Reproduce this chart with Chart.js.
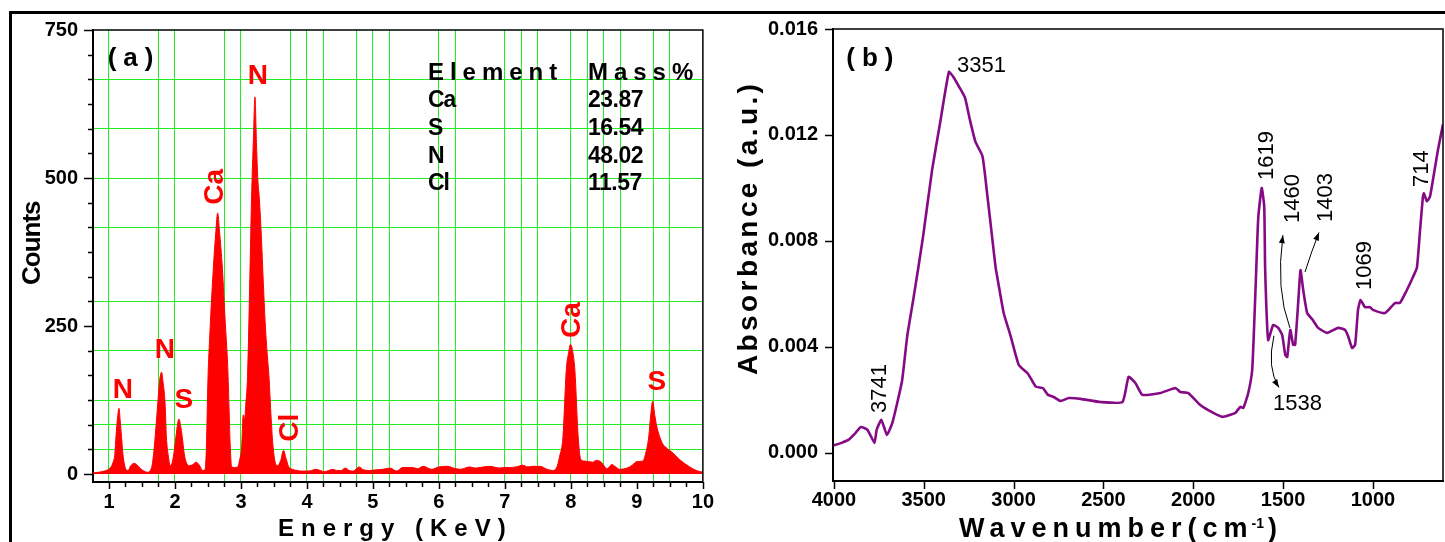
<!DOCTYPE html>
<html><head><meta charset="utf-8">
<script src="https://cdn.jsdelivr.net/npm/chart.js@4.4.1/dist/chart.umd.min.js"></script>
<style>
html,body{margin:0;padding:0;background:#fff;}
#wrap{position:relative;width:1445px;height:542px;overflow:hidden;background:#fff;}
#frame{position:absolute;left:9px;top:11px;width:1440px;height:540px;border-top:3px solid #000;border-left:3px solid #000;}
#ca{position:absolute;left:0;top:0;}
#cb{position:absolute;left:722px;top:0;}
</style></head>
<body><div id="wrap"><div id="frame"></div>
<canvas id="ca" width="722" height="542"></canvas>
<canvas id="cb" width="723" height="542"></canvas>
</div>
<script>
// ---------- Panel (a): EDS spectrum ----------
const energy = [0.76,0.85,0.93,0.98,1.03,1.06,1.09,1.106,1.13,1.152,
1.17,1.19,1.21,1.23,1.26,1.29,1.33,1.38,1.43,1.48,
1.53,1.58,1.62,1.66,1.70,1.74,1.77,1.798,1.82,1.85,
1.87,1.90,1.93,1.96,1.99,2.015,2.04,2.06,2.085,2.11,
2.14,2.17,2.22,2.27,2.32,2.37,2.42,2.455,2.475,2.50,
2.53,2.58,2.62,2.647,2.675,2.72,2.76,2.80,2.82,2.835,
2.86,2.90,2.95,2.98,3.01,3.035,3.055,3.075,3.10,3.135,
3.16,3.19,3.212,3.235,3.255,3.28,3.31,3.335,3.37,3.40,
3.425,3.45,3.48,3.51,3.55,3.60,3.645,3.68,3.72,3.78,
3.85,3.92,4.0,4.07,4.13,4.2,4.27,4.33,4.39,4.45,
4.52,4.58,4.64,4.70,4.79,4.86,4.95,5.05,5.15,5.26,
5.36,5.45,5.6,5.68,5.76,5.89,6.0,6.14,6.22,6.32,
6.47,6.55,6.62,6.77,6.92,7.0,7.07,7.17,7.27,7.35,
7.42,7.53,7.64,7.72,7.78,7.83,7.88,7.93,7.965,7.995,
8.03,8.06,8.11,8.15,8.2,8.27,8.33,8.38,8.45,8.55,
8.62,8.68,8.74,8.85,8.93,9.0,9.09,9.15,9.18,9.21,
9.24,9.27,9.30,9.34,9.39,9.46,9.53,9.65,9.8,9.9,
10.0];
const counts = [2,3,5,7,12,19,35,63,95,111,
90,63,35,19,7,6,14,18,15,9,
5,3,5,19,63,120,160,172,155,120,
63,30,14,20,40,63,85,93,82,63,
35,20,14,16,20,15,6,7,40,160,
240,345,410,441,410,345,260,180,110,55,
12,11,12,24,45,100,92,120,165,333,
463,570,637,560,500,463,400,333,250,200,
164,110,55,25,14,22,40,28,13,8,
6,5,5,6,8,6,4,6,8,6,
6,10,6,5,12,7,6,7,8,10,
5,11,11,9,13,8,12,13,10,8,
12,10,11,13,10,11,11,12,15,12,
13,13,8,6,10,30,63,176,205,219,
205,176,63,25,22,21,20,23,21,9,
16,12,8,10,15,21,22,43,63,100,
123,100,81,65,51,43,37,24,12,6,
3];
const energyTicks = [1,1.25,1.5,1.75,2,2.25,2.5,2.75,3,3.25,3.5,3.75,4,4.25,4.5,4.75,5,5.25,5.5,5.75,6,6.25,6.5,6.75,7,7.25,7.5,7.75,8,8.25,8.5,8.75,9,9.25,9.5,9.75,10];
const energyGrid = [1,1.75,2,2.75,3,3.75,4,4.25,4.75,5,5.25,6,6.25,7,7.25,7.5,8,8.25,8.5,8.75,9.25,9.5];
const countTicks = [0,41.667,83.333,125,166.667,208.333,250,291.667,333.333,375,416.667,458.333,500,541.667,583.333,625,666.667,708.333,750];
const countGrid = [41.667,83.333,125,208.333,291.667,416.667,500,583.333,666.667];
const countLabels = [0,250,500,750];
const peakLabelsA = [
  {t:'N', x:1.212, y:142, rot:false},
  {t:'N', x:1.848, y:209, rot:false},
  {t:'S', x:2.136, y:125, rot:false},
  {t:'Ca', x:2.606, y:485, rot:true},
  {t:'N', x:3.258, y:671, rot:false},
  {t:'Cl', x:3.742, y:78, rot:true},
  {t:'Ca', x:8.015, y:260, rot:true},
  {t:'S', x:9.303, y:155, rot:false}
];
const tableHead = ['Element','Mass%'];
const tableElements = ['Ca','S','N','Cl'];
const tableMass = ['23.87','16.54','48.02','11.57'];

// ---------- Panel (b): FTIR spectrum ----------
const wavenumber = [4000,3994,3957,3920,3880,3850,3813,3774,3762,3736,
3705,3675,3647,3620,3592,3558,3530,3503,3453,3409,
3360,3336,3299,3270,3243,3212,3173,3145,3117,3100,
3088,3055,3016,2971,2921,2876,2837,2810,2776,2738,
2693,2627,2516,2394,2360,2322,2283,2183,2099,2072,
2027,1961,1888,1838,1766,1738,1721,1694,1672,1660,
1649,1638,1619,1605,1600,1594,1583,1555,1527,1505,
1488,1477,1460,1444,1433,1416,1403,1388,1366,1333,
1305,1255,1194,1155,1138,1116,1099,1083,1069,1044,
1016,1000,933,877,850,811,777,755,739,722,
716,700,683,666,639,616,610];
const absorbance = [0.0003,0.0003,0.00038,0.00049,0.00075,0.00098,0.00087,0.00038,0.00087,0.00125,
0.00068,0.00113,0.0019,0.00275,0.0044,0.0058,0.0070,0.0082,0.0107,0.01245,
0.01438,0.0142,0.01377,0.0134,0.01257,0.01174,0.0112,0.00966,0.0080,0.0070,
0.00653,0.00528,0.0044,0.00332,0.0030,0.0025,0.00245,0.0022,0.00211,0.00196,
0.00207,0.00204,0.00192,0.00192,0.00287,0.00264,0.00219,0.00226,0.00245,0.0023,
0.00226,0.00181,0.00151,0.00136,0.00151,0.00174,0.0017,0.00226,0.00313,0.0050,
0.0070,0.0089,0.0100,0.0093,0.0070,0.00566,0.00426,0.00483,0.00472,0.00445,
0.0037,0.00362,0.00464,0.00408,0.00408,0.00566,0.0069,0.00615,0.00528,0.0050,
0.00472,0.00453,0.00472,0.00464,0.0044,0.00396,0.00408,0.0054,0.00577,0.0055,
0.0055,0.0054,0.00528,0.00566,0.00566,0.00615,0.00664,0.0070,0.0083,0.00966,
0.0098,0.0095,0.00966,0.0103,0.0114,0.0122,0.0124];
const wnTicks = [4000,3500,3000,2500,2000,1500,1000];
const absTicks = [0,0.004,0.008,0.012,0.016];
const peakLabelsB = [
  {t:'3351', x:3315, y:0.01438, rot:false},
  {t:'3741', x:3711, y:0.00151, rot:true},
  {t:'1619', x:1557, y:0.0103, rot:true},
  {t:'1460', x:1412, y:0.00868, rot:true},
  {t:'1403', x:1228, y:0.00872, rot:true},
  {t:'1069', x:1011, y:0.00615, rot:true},
  {t:'714', x:694, y:0.01004, rot:true},
  {t:'1538', x:1556, y:0.00162, rot:false}
];
const arrowsB = [
  {from:[1462,0.00472], ctrl:[1542,0.00615], to:[1501,0.00822]},
  {from:[1378,0.00683], ctrl:[1343,0.00759], to:[1300,0.00832]},
  {from:[1551,0.00442], ctrl:[1592,0.00321], to:[1523,0.00247]}
];

const FONT = '"Liberation Sans", Arial, Helvetica, sans-serif';
const GREEN = '#22ee22';
Chart.defaults.font.family = FONT;
Chart.defaults.color = '#000';

function near(list, v){ return list.some(g => Math.abs(g - v) < 1e-3); }
function txt(ctx, s, px, py, o){
  ctx.save();
  ctx.font = o.font; ctx.fillStyle = o.color || '#000';
  ctx.letterSpacing = (o.ls || 0) + 'px';
  ctx.textAlign = o.align || 'left'; ctx.textBaseline = o.base || 'alphabetic';
  ctx.translate(px, py); if (o.rot) ctx.rotate(-Math.PI/2);
  ctx.fillText(s, 0, 0);
  const w = ctx.measureText(s).width;
  ctx.restore();
  return w;
}
function seg(ctx,x1,y1,x2,y2){ ctx.beginPath(); ctx.moveTo(x1,y1); ctx.lineTo(x2,y2); ctx.stroke(); }

const plugA = {
  id:'plugA',
  afterDraw(chart){
    const {ctx, chartArea:a, scales:{x, y}} = chart;
    ctx.save();
    ctx.strokeStyle = '#000'; ctx.lineWidth = 1.5;
    ctx.beginPath(); ctx.moveTo(a.left, a.top); ctx.lineTo(a.right, a.top); ctx.lineTo(a.right, a.bottom); ctx.stroke();
    countTicks.forEach(v => { const py = Math.round(y.getPixelForValue(v)) + 0.5; const L = near(countLabels, v) ? 9 : 5; seg(ctx, a.left - L, py, a.left, py); });
    energyTicks.forEach(v => { const px = Math.round(x.getPixelForValue(v)) + 0.5; const L = Number.isInteger(v) ? 7 : 5; seg(ctx, px, a.bottom, px, a.bottom + L); });
    ctx.restore();
    // peak labels
    peakLabelsA.forEach(p => txt(ctx, p.t, x.getPixelForValue(p.x), y.getPixelForValue(p.y), {font:'bold 28px '+FONT, color:'#ff0000', align:'center', base:'middle', rot:p.rot}));
    // table
    txt(ctx, tableHead[0], x.getPixelForValue(5.833), y.getPixelForValue(665.5), {font:'bold 24px '+FONT, ls:6});
    txt(ctx, tableHead[1], x.getPixelForValue(8.258), y.getPixelForValue(665.5), {font:'bold 24px '+FONT, ls:6});
    const rowY = [620, 573, 525, 480];
    tableElements.forEach((e,i) => {
      txt(ctx, e, x.getPixelForValue(5.833), y.getPixelForValue(rowY[i]), {font:'bold 23px '+FONT, ls:-1});
      txt(ctx, tableMass[i], x.getPixelForValue(8.258), y.getPixelForValue(rowY[i]), {font:'bold 23px '+FONT, ls:-0.5});
    });
    txt(ctx, '(a)', x.getPixelForValue(1.38), y.getPixelForValue(701), {font:'bold 26px '+FONT, ls:7, align:'center', base:'middle'});
    // axis titles
    txt(ctx, 'Energy (KeV)', a.left + 185, a.bottom + 54, {font:'bold 24px '+FONT, ls:7});
    txt(ctx, 'Counts', 40, a.bottom - 197, {font:'bold 26px '+FONT, ls:-1, rot:true});
  }
};

new Chart(document.getElementById('ca'), {
  type:'line',
  data:{datasets:[{data: energy.map((e,i)=>({x:e, y:counts[i]})), borderColor:'#ff0000', backgroundColor:'#ff0000', borderWidth:1, pointRadius:0, fill:'origin', cubicInterpolationMode:'monotone'}]},
  options:{
    responsive:false, animation:false, events:[],
    plugins:{legend:{display:false}, tooltip:{enabled:false}},
    layout:{padding:{left:0, top:30, right:19, bottom:0}},
    scales:{
      x:{type:'linear', min:0.758, max:10,
        afterBuildTicks: s => { s.ticks = energyTicks.map(v => ({value:v})); },
        afterFit: s => { s.height = 60; },
        grid:{color: c => (c.tick && near(energyGrid, c.tick.value)) ? GREEN : 'rgba(0,0,0,0)', lineWidth:1, drawTicks:false},
        border:{display:true, color:'#000', width:2},
        ticks:{autoSkip:false, maxRotation:0, minRotation:0, padding:8, color:'#000', font:{size:20, weight:'bold'},
          callback: v => Number.isInteger(v) ? String(v) : ''}
      },
      y:{type:'linear', min:-13.5, max:750,
        afterBuildTicks: s => { s.ticks = countTicks.map(v => ({value:v})); },
        afterFit: s => { s.width = 93; },
        grid:{color: c => (c.tick && near(countGrid, c.tick.value)) ? GREEN : 'rgba(0,0,0,0)', lineWidth:1, drawTicks:false},
        border:{display:true, color:'#000', width:2},
        ticks:{autoSkip:false, padding:15, color:'#000', font:{size:20, weight:'bold'},
          callback: v => near(countLabels, v) ? String(Math.round(v)) : ''}
      }
    }
  },
  plugins:[plugA]
});

const plugB = {
  id:'plugB',
  afterDraw(chart){
    const {ctx, chartArea:a, scales:{x, y}} = chart;
    ctx.save();
    ctx.strokeStyle = '#000'; ctx.lineWidth = 1.5;
    ctx.beginPath(); ctx.moveTo(a.left, a.top); ctx.lineTo(a.right, a.top); ctx.lineTo(a.right, a.bottom); ctx.stroke();
    absTicks.forEach(v => { const py = Math.round(y.getPixelForValue(v)) + 0.5; seg(ctx, a.left - 8, py, a.left, py); });
    wnTicks.forEach(v => { const px = Math.round(x.getPixelForValue(v)) + 0.5; seg(ctx, px, a.bottom, px, a.bottom + 8); });
    // arrows
    ctx.lineWidth = 1; ctx.fillStyle = '#000';
    arrowsB.forEach(ar => {
      const p0 = [x.getPixelForValue(ar.from[0]), y.getPixelForValue(ar.from[1])];
      const pc = [x.getPixelForValue(ar.ctrl[0]), y.getPixelForValue(ar.ctrl[1])];
      const p1 = [x.getPixelForValue(ar.to[0]), y.getPixelForValue(ar.to[1])];
      ctx.beginPath(); ctx.moveTo(p0[0], p0[1]); ctx.quadraticCurveTo(pc[0], pc[1], p1[0], p1[1]); ctx.stroke();
      const ang = Math.atan2(p1[1]-pc[1], p1[0]-pc[0]);
      ctx.beginPath();
      ctx.moveTo(p1[0], p1[1]);
      ctx.lineTo(p1[0] - 8*Math.cos(ang) + 3*Math.sin(ang), p1[1] - 8*Math.sin(ang) - 3*Math.cos(ang));
      ctx.lineTo(p1[0] - 8*Math.cos(ang) - 3*Math.sin(ang), p1[1] - 8*Math.sin(ang) + 3*Math.cos(ang));
      ctx.closePath(); ctx.fill();
    });
    ctx.restore();
    peakLabelsB.forEach(p => txt(ctx, p.t, x.getPixelForValue(p.x), y.getPixelForValue(p.y), {font:'22px '+FONT, rot:p.rot}));
    txt(ctx, '(b)', x.getPixelForValue(3780), y.getPixelForValue(0.01487), {font:'bold 26px '+FONT, ls:7, align:'center', base:'middle'});
    // axis titles
    const bx = a.left + 126, by = a.bottom + 56;
    const w1 = txt(ctx, 'Wavenumber(cm', bx, by, {font:'bold 27px '+FONT, ls:6});
    const w2 = txt(ctx, '-1', bx + w1 - 2, by - 9, {font:'bold 14px '+FONT});
    txt(ctx, ')', bx + w1 + w2 + 2, by, {font:'bold 27px '+FONT});
    txt(ctx, 'Absorbance (a.u.)', a.left - 76, a.bottom - 106, {font:'bold 28px '+FONT, ls:3.4, rot:true});
  }
};

new Chart(document.getElementById('cb'), {
  type:'line',
  data:{datasets:[{data: wavenumber.map((w,i)=>({x:w, y:absorbance[i]})), borderColor:'#850a85', borderWidth:2.6, pointRadius:0, fill:false, tension:0.15}]},
  options:{
    responsive:false, animation:false, events:[],
    plugins:{legend:{display:false}, tooltip:{enabled:false}},
    layout:{padding:{left:0, top:29, right:2, bottom:0}},
    scales:{
      x:{type:'linear', reverse:true, min:610, max:4005,
        afterBuildTicks: s => { s.ticks = wnTicks.map(v => ({value:v})); },
        afterFit: s => { s.height = 61; },
        grid:{display:true, drawOnChartArea:false, drawTicks:false},
        border:{display:true, color:'#000', width:2},
        ticks:{autoSkip:false, maxRotation:0, minRotation:0, padding:7, color:'#000', font:{size:20, weight:'bold'},
          callback: v => String(v)}
      },
      y:{type:'linear', min:-0.00106, max:0.016,
        afterBuildTicks: s => { s.ticks = absTicks.map(v => ({value:v})); },
        afterFit: s => { s.width = 111; },
        grid:{display:true, drawOnChartArea:false, drawTicks:false},
        border:{display:true, color:'#000', width:2},
        ticks:{autoSkip:false, padding:15, color:'#000', font:{size:20, weight:'bold'},
          callback: v => v.toFixed(3)}
      }
    }
  },
  plugins:[plugB]
});
</script>
</body></html>
